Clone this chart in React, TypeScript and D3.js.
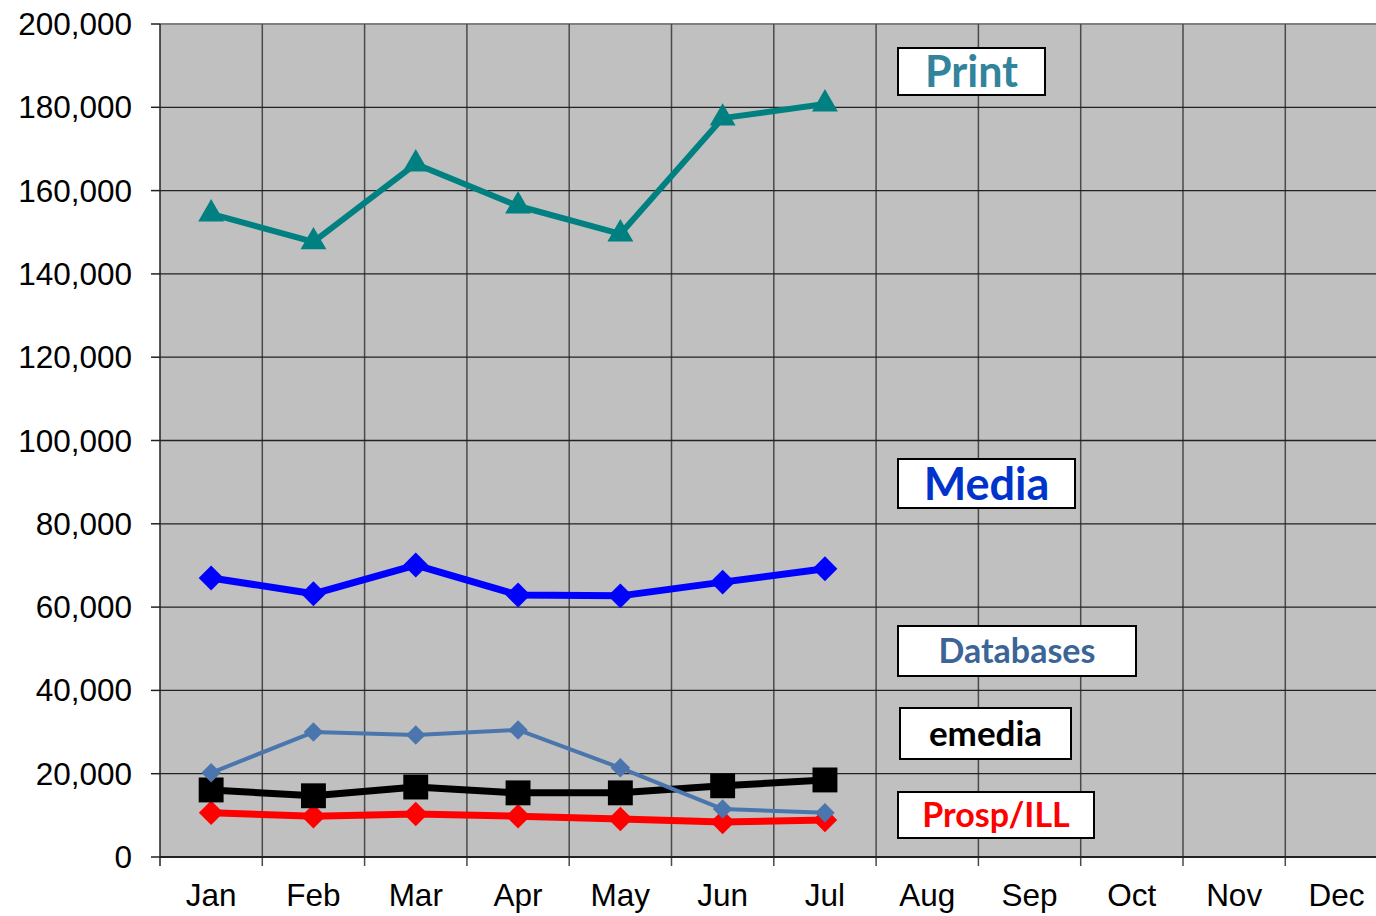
import * as d3 from 'd3'

const months = ['Jan', 'Feb', 'Mar', 'Apr', 'May', 'Jun', 'Jul', 'Aug', 'Sep', 'Oct', 'Nov', 'Dec']
const yTicks = [0, 20000, 40000, 60000, 80000, 100000, 120000, 140000, 160000, 180000, 200000]

const printVals = [154400, 147700, 166400, 156300, 149600, 177400, 180800]
const mediaVals = [67000, 63200, 70100, 62900, 62700, 66000, 69200]
const databaseVals = [20200, 30000, 29300, 30500, 21400, 11500, 10600]
const emediaVals = [16100, 14700, 16800, 15400, 15400, 17100, 18500]
const prospVals = [10600, 9800, 10300, 9800, 9100, 8400, 8900]

const WIDTH = 1376
const HEIGHT = 916
const MARGIN = { LEFT: 160, TOP: 24, BOTTOM: 59 }
const BAND = 102.3

const x = d3.scaleBand<string>()
  .domain(months)
  .range([MARGIN.LEFT, MARGIN.LEFT + BAND * months.length])
  .padding(0)
const y = d3.scaleLinear().domain([0, 200000]).range([HEIGHT - MARGIN.BOTTOM, MARGIN.TOP])
const cx = (i: number) => (x(months[i]) as number) + x.bandwidth() / 2

const series = [
  { name: 'Prosp/ILL', values: prospVals, color: '#ff0000', width: 7, shape: 'diamond', size: 300 },
  { name: 'emedia', values: emediaVals, color: '#000000', width: 7, shape: 'square', size: 620 },
  { name: 'Print', values: printVals, color: '#008080', width: 6, shape: 'triangle', size: 290 },
  { name: 'Media', values: mediaVals, color: '#0000ff', width: 7, shape: 'diamond', size: 310 },
  { name: 'Databases', values: databaseVals, color: '#4a76ad', width: 4, shape: 'diamond', size: 190 },
]

// label boxes placed like the original text boxes
const labels = [
  { text: 'Print', color: '#31849b', x: 898, y: 48, w: 147, h: 47, size: 43 },
  { text: 'Media', color: '#0033cc', x: 898, y: 459, w: 177, h: 49, size: 45 },
  { text: 'Databases', color: '#3b6497', x: 898, y: 626, w: 238, h: 50, size: 34 },
  { text: 'emedia', color: '#000000', x: 900, y: 708, w: 171, h: 51, size: 35 },
  { text: 'Prosp/ILL', color: '#ff0000', x: 898, y: 792, w: 196, h: 46, size: 34 },
]

const symbolPath = (shape: string, size: number) => {
  if (shape === 'triangle') return d3.symbol(d3.symbolTriangle, size)() as string
  return d3.symbol(d3.symbolSquare, size)() as string
}

export default function App() {
  const line = d3.line<number>().x((_, i) => cx(i)).y((d) => y(d))
  const plotRight = MARGIN.LEFT + BAND * months.length
  const bottom = y(0)

  return (
    <svg width={WIDTH} height={HEIGHT} style={{ position: 'absolute', left: 0, top: 0, background: '#fff' }}>
      <rect x={MARGIN.LEFT} y={MARGIN.TOP} width={plotRight - MARGIN.LEFT} height={bottom - MARGIN.TOP} fill="#c0c0c0" />
      <line x1={MARGIN.LEFT} x2={plotRight} y1={MARGIN.TOP} y2={MARGIN.TOP} stroke="#808080" strokeWidth={2} />

      {/* vertical grid */}
      {months.slice(1).map((m) => (
        <line key={m} x1={x(m)} x2={x(m)} y1={MARGIN.TOP} y2={bottom + 9} stroke="#4a4a4a" strokeWidth={1.5} />
      ))}
      {/* horizontal grid */}
      {yTicks.slice(1, -1).map((t) => (
        <line key={t} x1={MARGIN.LEFT} x2={plotRight} y1={y(t)} y2={y(t)} stroke="#222" strokeWidth={1.3} />
      ))}

      {/* y axis */}
      <line x1={MARGIN.LEFT} x2={MARGIN.LEFT} y1={MARGIN.TOP} y2={bottom + 9} stroke="#222" strokeWidth={1.5} />
      {yTicks.map((t) => (
        <g key={t}>
          <line x1={MARGIN.LEFT - 9} x2={MARGIN.LEFT} y1={y(t)} y2={y(t)} stroke="#222" strokeWidth={1.5} />
          <text x={132} y={y(t)} dy="0.35em" textAnchor="end" fontFamily="Liberation Sans, Arial, sans-serif" fontSize={31.5} fill="#000">
            {d3.format(',')(t)}
          </text>
        </g>
      ))}

      {/* x axis */}
      <line x1={MARGIN.LEFT} x2={plotRight} y1={bottom} y2={bottom} stroke="#222" strokeWidth={1.8} />
      {months.map((m, i) => (
        <text key={m} x={cx(i)} y={906} textAnchor="middle" fontFamily="Liberation Sans, Arial, sans-serif" fontSize={31.5} fill="#000">
          {m}
        </text>
      ))}

      {/* series */}
      {series.map((s) => (
        <g key={s.name}>
          <path d={line(s.values) as string} fill="none" stroke={s.color} strokeWidth={s.width} strokeLinejoin="round" />
          {s.values.map((v, i) => (
            <path
              key={i}
              d={symbolPath(s.shape, s.size)}
              transform={`translate(${cx(i)},${y(v)})${s.shape === 'diamond' ? ' rotate(45)' : ''}`}
              fill={s.color}
            />
          ))}
        </g>
      ))}

      {/* labels */}
      {labels.map((l) => (
        <g key={l.text}>
          <rect x={l.x} y={l.y} width={l.w} height={l.h} fill="#fff" stroke="#000" strokeWidth={2} />
          <text
            x={l.x + l.w / 2}
            y={l.y + l.h / 2}
            dy="0.36em"
            textAnchor="middle"
            fontFamily="Lato, 'Open Sans', sans-serif"
            fontWeight="bold"
            fontSize={l.size}
            fill={l.color}
          >
            {l.text}
          </text>
        </g>
      ))}
    </svg>
  )
}
